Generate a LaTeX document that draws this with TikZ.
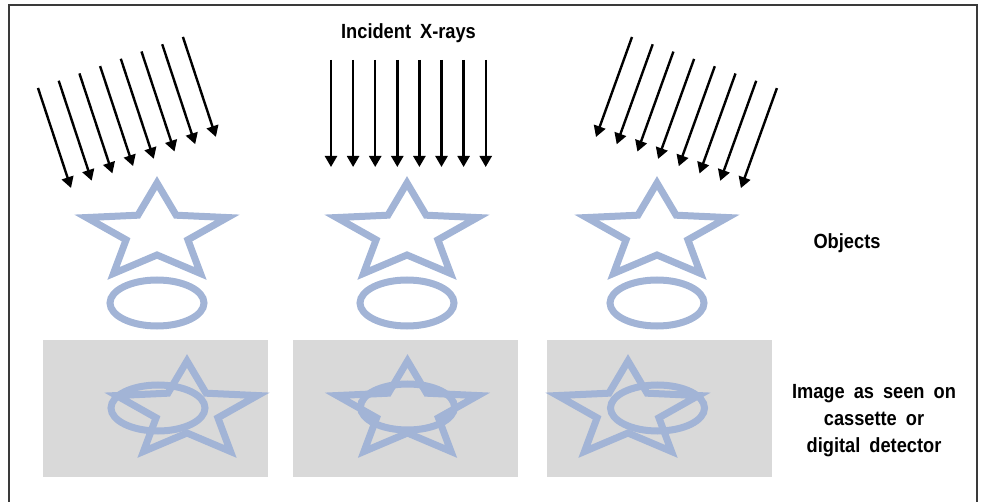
\documentclass[tikz,border=0pt]{standalone}
\usepackage{fontspec}
\setmainfont{Liberation Sans}
\newfontfamily\lblfont[FakeStretch=0.89]{Liberation Sans}
\newcommand\lblsetup{\lblfont\bfseries\fontsize{20.5}{27}\selectfont\spaceskip=9pt plus 1pt\relax}
\usetikzlibrary{arrows.meta}
\definecolor{starblue}{HTML}{A2B4D6}
\definecolor{detgray}{HTML}{D9D9D9}
\definecolor{framecol}{HTML}{3A3A3A}
\tikzset{
  objline/.style={draw=starblue, line width=7pt, line join=miter},
  ray/.style={line width=2.4pt, -{Triangle[length=11pt,width=12pt]}},
  detector/.style={fill=detgray, draw=none},
  lbl/.style={font=\lblsetup, text=black, align=center, inner sep=0pt}
}
\newcommand\mystar[2]{%
  \draw[objline] ({#1},{#2-50})
    \foreach \a/\rx/\ry in {126/32.5/22,162/74/50,198/32.5/22,234/74/50,270/32.5/22,306/74/50,342/32.5/22,18/74/50,54/32.5/22}
      { -- ({#1+\rx*cos(\a)},{#2-\ry*sin(\a)}) } -- cycle;}
\newcommand\myell[2]{%
  \draw[objline] (#1,#2) ellipse [x radius=47pt, y radius=23pt];}
\begin{document}
\begin{tikzpicture}[x=1pt,y=-1pt]
\useasboundingbox (0,0) rectangle (982,502);
% frame
\draw[framecol, line width=1.5pt] (9,502) -- (9,5) -- (977,5) -- (977,502);
% rays
\foreach \i in {0,...,7}{
  \coordinate (la\i) at ({38+20.7*\i},{88-7.3*\i});
  \coordinate (lb\i) at ({38+20.7*\i+33},{188-7.3*\i});
  \draw[ray] (la\i) -- (lb\i);
  \coordinate (ca\i) at ({331+22.1*\i},60);
  \coordinate (cb\i) at ({331+22.1*\i},167);
  \draw[ray] (ca\i) -- (cb\i);
  \coordinate (ra\i) at ({632+20.7*\i},{37+7.3*\i});
  \coordinate (rb\i) at ({632+20.7*\i-36},{137+7.3*\i});
  \draw[ray] (ra\i) -- (rb\i);
}
% objects
\mystar{157}{233}\myell{157}{303}
\mystar{407}{233}\myell{407}{303}
\mystar{657}{233}\myell{657}{303}
% detectors
\fill[detector] (43,340) rectangle (268,477);
\fill[detector] (293,340) rectangle (518,477);
\fill[detector] (547,340) rectangle (772,477);
\myell{158}{408}\mystar{187}{411}
\myell{407.5}{407}\mystar{407.5}{411}
\myell{657.5}{408}\mystar{628}{411}
% labels
\node[lbl] (title) at (408.5,33) {Incident X-rays};
\node[lbl] (obj) at (847,243) {Objects};
\node[lbl] (img) at (874,421) {Image as seen on\\cassette or\\digital detector};
\end{tikzpicture}
\end{document}
